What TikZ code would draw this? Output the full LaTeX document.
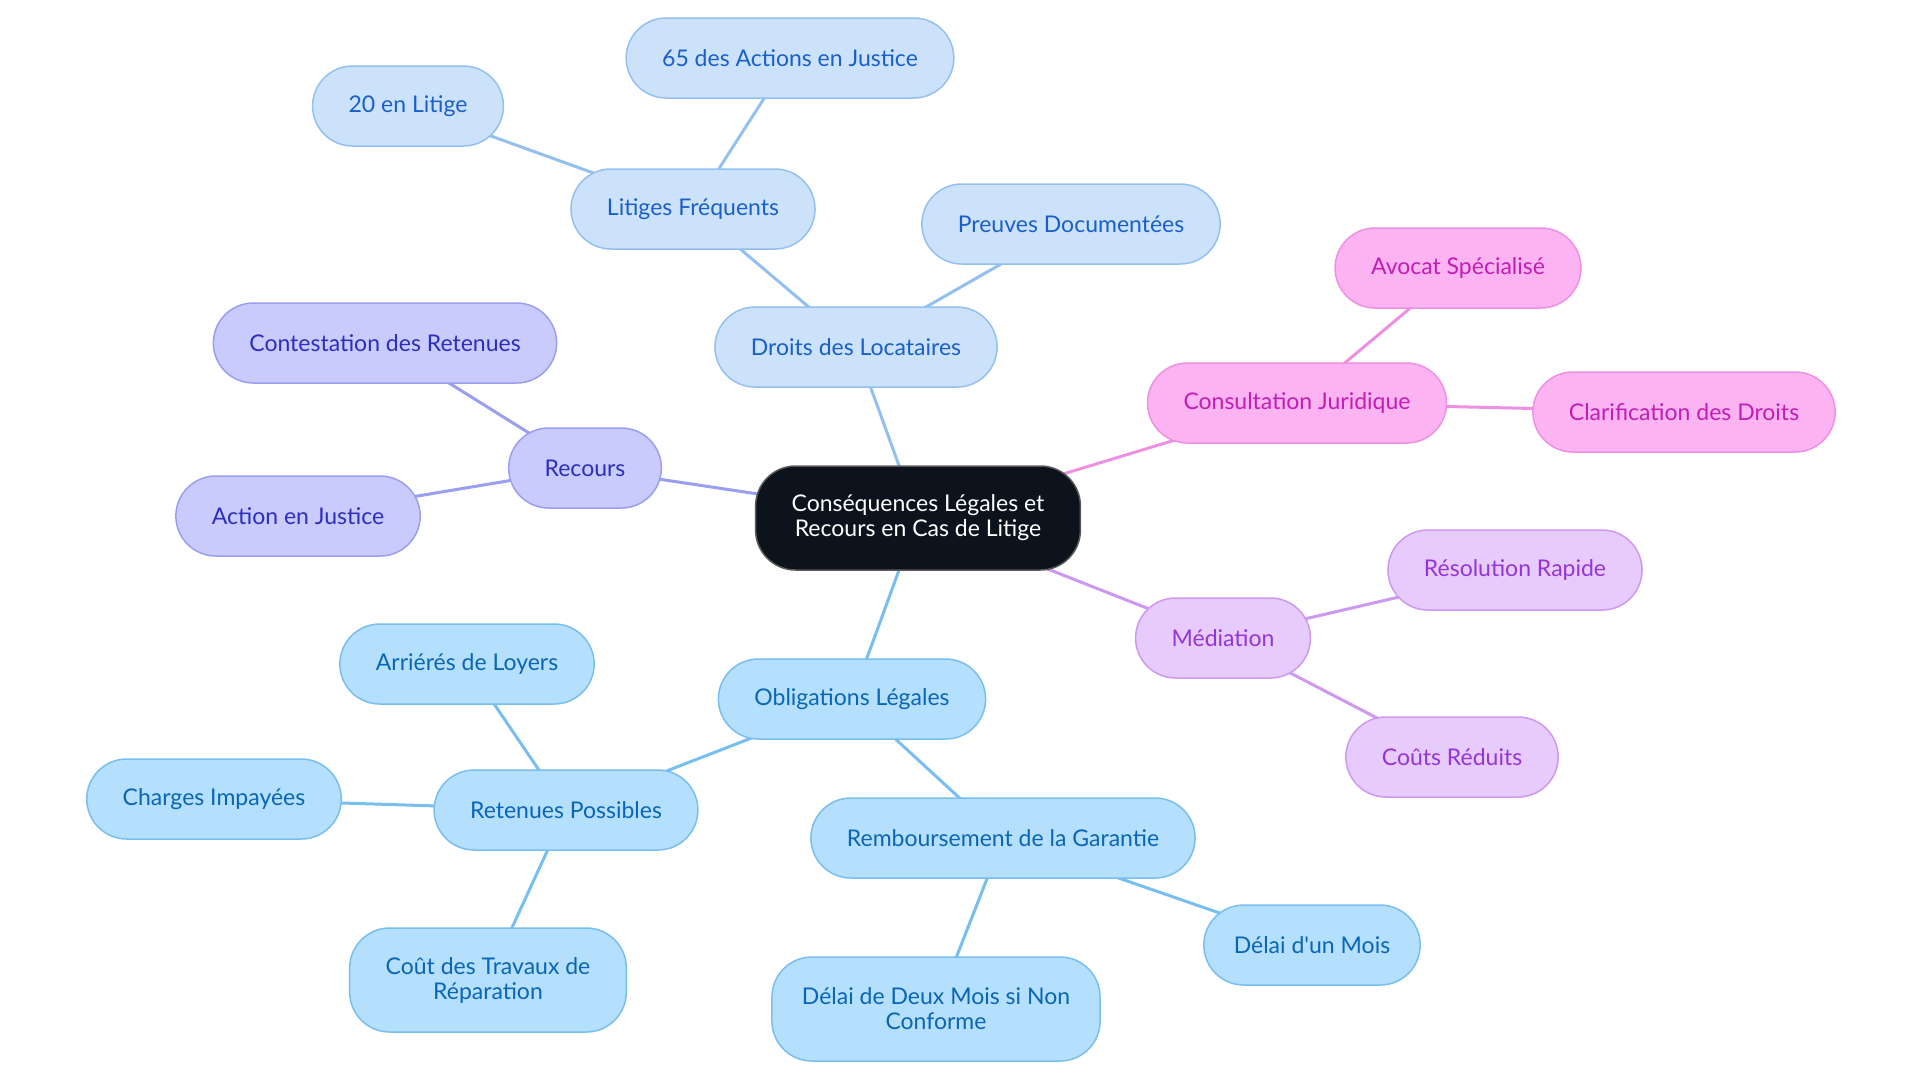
\documentclass[tikz,border=0pt]{standalone}
\usepackage{fontspec}
\setmainfont{Lato}
\usetikzlibrary{positioning,backgrounds}

\definecolor{ctrfill}{HTML}{0D131C}
\definecolor{dlfill}{HTML}{CCE2FB}
\definecolor{dldraw}{HTML}{93C0F0}
\definecolor{dltext}{HTML}{1A5FC9}
\definecolor{olfill}{HTML}{B4DFFD}
\definecolor{oldraw}{HTML}{78BEF0}
\definecolor{oltext}{HTML}{0A66B5}
\definecolor{recfill}{HTML}{C8CBFB}
\definecolor{recdraw}{HTML}{9A9EF0}
\definecolor{rectext}{HTML}{2D2DC0}
\definecolor{cjfill}{HTML}{FCB3F2}
\definecolor{cjdraw}{HTML}{EE90E2}
\definecolor{cjtext}{HTML}{C21EB3}
\definecolor{medfill}{HTML}{E7CBFC}
\definecolor{meddraw}{HTML}{CD98F2}
\definecolor{medtext}{HTML}{9435D8}

\begin{document}
\begin{tikzpicture}[
  x=0.5pt, y=-0.5pt,
  box/.style={
    rectangle, rounded corners=20pt, minimum height=40pt, inner xsep=18pt,
    line width=0.75pt, align=center, font=\fontsize{11.5}{12.5}\selectfont
  },
  center/.style={box, fill=ctrfill, draw=gray!70!black, text=white, minimum height=52pt},
  droits/.style={box, fill=dlfill, draw=dldraw, text=dltext},
  oblig/.style={box, fill=olfill, draw=oldraw, text=oltext},
  recours/.style={box, fill=recfill, draw=recdraw, text=rectext},
  consult/.style={box, fill=cjfill, draw=cjdraw, text=cjtext},
  media/.style={box, fill=medfill, draw=meddraw, text=medtext},
  link/.style={line width=1.5pt}
]
\useasboundingbox (0,0) rectangle (1920,1083);

% Centre
\node[center] (root) at (918,518) {Conséquences Légales et\\Recours en Cas de Litige};

% Droits des Locataires (top)
\node[droits] (droits) at (856,347) {Droits des Locataires};
\node[droits] (litiges) at (693,209) {Litiges Fréquents};
\node[droits] (actions65) at (790,58) {65 des Actions en Justice};
\node[droits] (litige20) at (408,106) {20 en Litige};
\node[droits] (preuves) at (1071,224) {Preuves Documentées};

% Recours (left)
\node[recours] (recours) at (585,468) {Recours};
\node[recours] (contest) at (385,343) {Contestation des Retenues};
\node[recours] (action) at (298,516) {Action en Justice};

% Consultation Juridique (right)
\node[consult] (consult) at (1297,403) {Consultation Juridique};
\node[consult] (avocat) at (1458,268) {Avocat Spécialisé};
\node[consult] (clarif) at (1684,412) {Clarification des Droits};

% Mediation (right, lower)
\node[media] (mediation) at (1223,638) {Médiation};
\node[media] (rapide) at (1515,570) {Résolution Rapide};
\node[media] (couts) at (1452,757) {Coûts Réduits};

% Obligations Legales (bottom)
\node[oblig] (oblig) at (852,699) {Obligations Légales};
\node[oblig] (retenues) at (566,810) {Retenues Possibles};
\node[oblig] (arrieres) at (467,664) {Arriérés de Loyers};
\node[oblig] (charges) at (214,799) {Charges Impayées};
\node[oblig, minimum height=52pt] (travaux) at (488,980) {Coût des Travaux de\\Réparation};
\node[oblig] (rembours) at (1003,838) {Remboursement de la Garantie};
\node[oblig, inner xsep=15pt] (unmois) at (1312,945) {Délai d\textquotesingle un Mois};
\node[oblig, minimum height=52pt, inner xsep=15pt] (deuxmois) at (936,1009) {Délai de Deux Mois si Non\\Conforme};

% Links (behind the boxes, centre to centre)
\begin{pgfonlayer}{background}
\draw[link, dldraw] (root.center) -- (droits.center);
\draw[link, dldraw] (droits.center) -- (litiges.center);
\draw[link, dldraw] (litiges.center) -- (actions65.center);
\draw[link, dldraw] (litiges.center) -- (litige20.center);
\draw[link, dldraw] (droits.center) -- (preuves.center);
\draw[link, recdraw] (root.center) -- (recours.center);
\draw[link, recdraw] (recours.center) -- (contest.center);
\draw[link, recdraw] (recours.center) -- (action.center);
\draw[link, cjdraw] (root.center) -- (consult.center);
\draw[link, cjdraw] (consult.center) -- (avocat.center);
\draw[link, cjdraw] (consult.center) -- (clarif.center);
\draw[link, meddraw] (root.center) -- (mediation.center);
\draw[link, meddraw] (mediation.center) -- (rapide.center);
\draw[link, meddraw] (mediation.center) -- (couts.center);
\draw[link, oldraw] (root.center) -- (oblig.center);
\draw[link, oldraw] (oblig.center) -- (retenues.center);
\draw[link, oldraw] (retenues.center) -- (arrieres.center);
\draw[link, oldraw] (retenues.center) -- (charges.center);
\draw[link, oldraw] (retenues.center) -- (travaux.center);
\draw[link, oldraw] (oblig.center) -- (rembours.center);
\draw[link, oldraw] (rembours.center) -- (unmois.center);
\draw[link, oldraw] (rembours.center) -- (deuxmois.center);
\end{pgfonlayer}
\end{tikzpicture}
\end{document}
